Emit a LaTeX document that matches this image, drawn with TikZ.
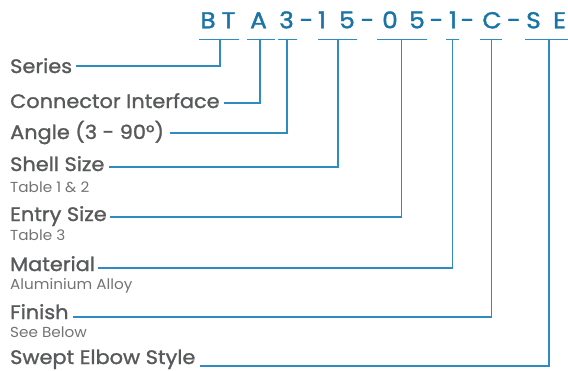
\documentclass[tikz,border=0pt]{standalone}
\usepackage{fontspec}
\setmainfont{Poppins}
\newfontfamily\labfont{Poppins}[FakeBold=1.3,FakeStretch=1.07]
\newfontfamily\codefont{Poppins}[FakeBold=1.6,FakeStretch=1.08]
\newfontfamily\subfont{Poppins}[FakeStretch=1.05]
\usetikzlibrary{calc}
\definecolor{codeblue}{HTML}{1A75A6}
\definecolor{lineblue}{HTML}{2E8CC0}
\definecolor{labgray}{HTML}{58595B}
\definecolor{subgray}{HTML}{727375}
\begin{document}
\begin{tikzpicture}[x=1pt,y=-1pt,
  code/.style={anchor=base, text=codeblue, inner sep=0pt, font=\codefont\fontsize{23}{23}\selectfont},
  lab/.style={anchor=base west, text=labgray, inner sep=0pt, font=\labfont\fontsize{19.5}{19.5}\selectfont},
  sub/.style={anchor=base west, text=subgray, inner sep=0pt, font=\subfont\fontsize{14.5}{14.5}\selectfont},
  uline/.style={draw=lineblue, line width=1.3pt},
  leader/.style={draw=lineblue, line width=1.3pt, line join=miter}]
\useasboundingbox (0,0) rectangle (568,370);

% code characters
\node[code] (cB)  at (208,28.3)   {B};
\node[code] (cT)  at (228.5,28.3) {T};
\node[code] (cA)  at (258.5,28.3) {A};
\node[code] (c3)  at (286.5,28.3) {3};
\node[code] (d1)  at (306.5,28.3) {-};
\node[code] (c1a) at (322,28.3)   {1};
\node[code] (c5a) at (347,28.3)   {5};
\node[code] (d2)  at (367.5,28.3) {-};
\node[code] (c0)  at (390,28.3)   {0};
\node[code] (c5b) at (417,28.3)   {5};
\node[code] (d3)  at (436.5,28.3) {-};
\node[code] (c1b) at (453,28.3)   {1};
\node[code] (d4)  at (467.5,28.3) {-};
\node[code] (cC)  at (492,28.3)   {C};
\node[code] (d5)  at (514,28.3)   {-};
\node[code] (cS)  at (533.5,28.3) {S};
\node[code] (cE)  at (559.5,28.3) {E};

% labels
\node[lab] (lSeries) at (10,73)  {Series};
\node[lab] (lConn)   at (10,108) {Connector Interface};
\node[lab] (lAngle)  at (10,139) {Angle (3 - 90°)};
\node[lab] (lShell)  at (10,171) {Shell Size};
\node[sub] (sShell)  at (10,192) {Table 1 \& 2};
\node[lab] (lEntry)  at (10,221) {Entry Size};
\node[sub] (sEntry)  at (10,240) {Table 3};
\node[lab] (lMat)    at (10,271) {Material};
\node[sub] (sMat)    at (10,289) {Aluminium Alloy};
\node[lab] (lFin)    at (10,319) {Finish};
\node[sub] (sFin)    at (10,337) {See Below};
\node[lab] (lSwept)  at (10,364) {Swept Elbow Style};

% tick tops (on the underlines) and corners
\coordinate (t1) at (220,39.3);   \coordinate (k1) at (220,66);
\coordinate (t2) at (260,39.3);   \coordinate (k2) at (260,103);
\coordinate (t3) at (287,39.3);   \coordinate (k3) at (287,133);
\coordinate (t4) at (338,39.3);   \coordinate (k4) at (338,167);
\coordinate (t5) at (401.5,39.3); \coordinate (k5) at (401.5,217);
\coordinate (t6) at (452.5,39.3); \coordinate (k6) at (452.5,268);
\coordinate (t7) at (491.5,39.3); \coordinate (k7) at (491.5,317);
\coordinate (t8) at (549,39.3);   \coordinate (k8) at (549,366);

% underlines
\draw[uline] ($(t1)+(-21,0)$) -- ($(t1)+(19,0)$);
\draw[uline] ($(t2)+(-13,0)$) -- ($(t2)+(15,0)$);
\draw[uline] ($(t3)+(-9,0)$) -- ($(t3)+(10,0)$);
\draw[uline] ($(t4)+(-20,0)$) -- ($(t4)+(19,0)$);
\draw[uline] ($(t5)+(-24.5,0)$) -- ($(t5)+(25.5,0)$);
\draw[uline] ($(t6)+(-6.5,0)$) -- ($(t6)+(6.5,0)$);
\draw[uline] ($(t7)+(-11.5,0)$) -- ($(t7)+(10.5,0)$);
\draw[uline] ($(t8)+(-24,0)$) -- ($(t8)+(18.5,0)$);

% leaders
\draw[leader] (t1) -- (k1) -- ($(k1 -| lSeries.east)+(4,0)$);
\draw[leader] (t2) -- (k2) -- ($(k2 -| lConn.east)+(4,0)$);
\draw[leader] (t3) -- (k3) -- ($(k3 -| lAngle.east)+(6,0)$);
\draw[leader] (t4) -- (k4) -- ($(k4 -| lShell.east)+(4,0)$);
\draw[leader] (t5) -- (k5) -- ($(k5 -| lEntry.east)+(3,0)$);
\draw[leader] (t6) -- (k6) -- ($(k6 -| lMat.east)+(3,0)$);
\draw[leader] (t7) -- (k7) -- ($(k7 -| lFin.east)+(4,0)$);
\draw[leader] (t8) -- (k8) -- ($(k8 -| lSwept.east)+(4,0)$);
\end{tikzpicture}
\end{document}
